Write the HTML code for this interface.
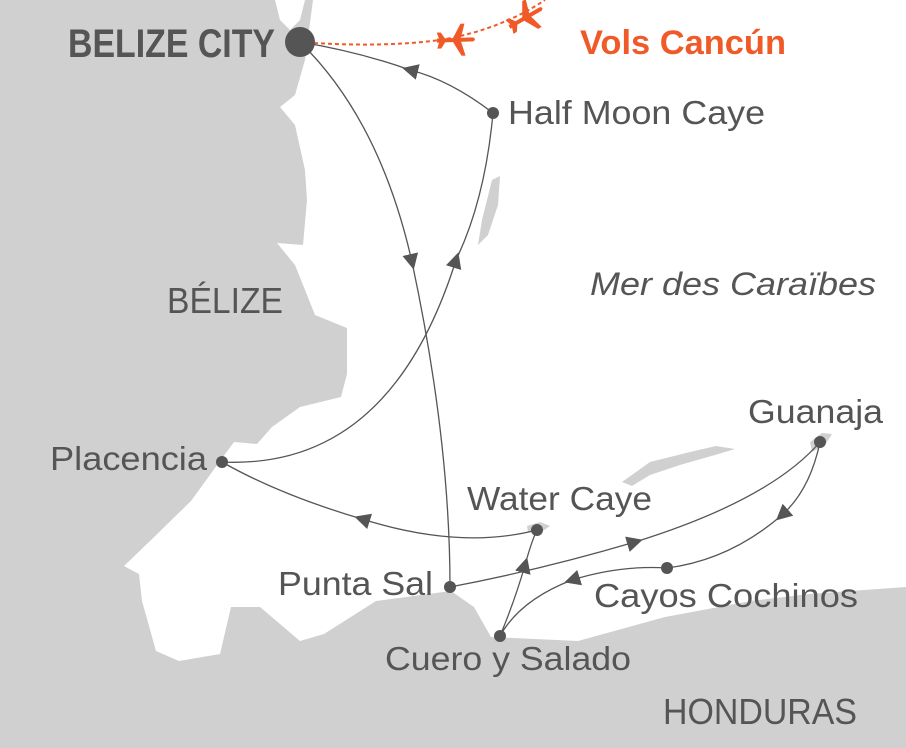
<!DOCTYPE html>
<html><head><meta charset="utf-8"><style>
html,body{margin:0;padding:0;background:#fff;}
svg{display:block;}
text{font-family:"Liberation Sans",sans-serif;fill:#555;}
</style></head><body>
<svg width="906" height="748" viewBox="0 0 906 748" xmlns="http://www.w3.org/2000/svg">
<defs>
<marker id="ar" viewBox="0 0 10 10" refX="5" refY="5" markerWidth="16" markerHeight="16" markerUnits="userSpaceOnUse" orient="auto">
<path d="M0,0 L10,5 L0,10 Z" fill="#555"/>
</marker>
</defs>
<rect width="906" height="748" fill="#fff"/>
<path fill="#d0d0d0" d="M0,0 L313,0 L305,60 L295,95 L280,107 L295,125 L305,170 L307,200 L303,245 L277,243 L295,265 L305,290 L315,315 L347,328 L347,374 L341,397 L300,407 L272,427 L257,444 L234,442 L220,461 L191,501 L150,541 L124,566 L139,574 L142,601 L156,651 L179,661 L220,654 L231,607 L260,607 L300,641 L324,634 L376,601 L451,591 L474,607 L491,637 L578,641 L665,617 L751,601 L809,594 L906,587 L906,748 L0,748 Z"/>
<path fill="#fff" d="M275,0 L305,0 L300,20 L290,30 L280,20 Z"/>
<path fill="#d0d0d0" d="M492,180 L500,176 L498,205 L488,235 L478,245 L482,220 Z"/>
<path fill="#d0d0d0" d="M622,482 L650,462 L690,452 L716,446 L735,449 L715,455 L680,465 L650,475 L632,486 Z"/>
<path fill="#d0d0d0" d="M810,442 L822,433 L832,434 L825,445 L812,452 Z"/>
<path fill="#d0d0d0" d="M527,526 L540,522 L550,526 L540,533 L528,532 Z"/>
<g fill="none" stroke="#555" stroke-width="1.3">
<path d="M493,113 Q450,80 410,70" marker-end="url(#ar)"/>
<path d="M410,70 Q360,52 300,42"/>
<path d="M300,42 Q380,120 412,262" marker-end="url(#ar)"/>
<path d="M412,262 Q450,440 450,587"/>
<path d="M222,462 Q390,470 456,260" marker-end="url(#ar)"/>
<path d="M456,260 Q485,200 493,113"/>
<path d="M537,530 Q460,550 362,519" marker-end="url(#ar)"/>
<path d="M362,519 Q280,495 222,462"/>
<path d="M500,636 Q515,600 525,565" marker-end="url(#ar)"/>
<path d="M525,565 Q532,540 537,530"/>
<path d="M450,587 Q540,570 635,542" marker-end="url(#ar)"/>
<path d="M635,542 Q770,500 820,442"/>
<path d="M820,442 Q810,490 782,515" marker-end="url(#ar)"/>
<path d="M782,515 Q730,560 667,568"/>
<path d="M667,568 Q620,565 572,580" marker-end="url(#ar)"/>
<path d="M572,580 Q520,600 500,636"/>
</g>
<path d="M300,42 Q380,48 440,40 Q500,30 545,0" fill="none" stroke="#f05a28" stroke-width="2" stroke-dasharray="4,3"/>
<g fill="#f05a28">
<g transform="translate(455,40) rotate(-2)"><path d="M-18,-2 L18,-2 Q22,0 18,2 L-18,2 Z M-2,-2 L6,-16 L10,-16 L6,-2 Z M-2,2 L6,16 L10,16 L6,2 Z M-16,-2 L-18,-8 L-14,-8 L-10,-2 Z M-16,2 L-18,8 L-14,8 L-10,2 Z"/></g>
<g transform="translate(525,18) rotate(-30)"><path d="M-18,-2 L18,-2 Q22,0 18,2 L-18,2 Z M-2,-2 L6,-16 L10,-16 L6,-2 Z M-2,2 L6,16 L10,16 L6,2 Z M-16,-2 L-18,-8 L-14,-8 L-10,-2 Z M-16,2 L-18,8 L-14,8 L-10,2 Z"/></g>
</g>
<g fill="#555">
<circle cx="300" cy="42" r="15"/>
<circle cx="493" cy="113" r="6"/>
<circle cx="222" cy="462" r="6"/>
<circle cx="537" cy="530" r="6"/>
<circle cx="450" cy="587" r="6"/>
<circle cx="820" cy="442" r="6"/>
<circle cx="667" cy="568" r="6"/>
<circle cx="500" cy="636" r="6"/>
</g>
<text x="68" y="57" font-size="40" font-weight="bold" textLength="207" lengthAdjust="spacingAndGlyphs">BELIZE CITY</text>
<text x="580" y="54" font-size="34" font-weight="bold" style="fill:#f05a28" textLength="206" lengthAdjust="spacingAndGlyphs">Vols Cancún</text>
<text x="508" y="124" font-size="33" textLength="257" lengthAdjust="spacingAndGlyphs">Half Moon Caye</text>
<text x="167" y="313" font-size="36" textLength="116" lengthAdjust="spacingAndGlyphs">BÉLIZE</text>
<text x="590" y="295" font-size="32" font-style="italic" textLength="286" lengthAdjust="spacingAndGlyphs">Mer des Caraïbes</text>
<text x="748" y="423" font-size="33" textLength="135" lengthAdjust="spacingAndGlyphs">Guanaja</text>
<text x="50" y="470" font-size="33" textLength="157" lengthAdjust="spacingAndGlyphs">Placencia</text>
<text x="467" y="510" font-size="33" textLength="185" lengthAdjust="spacingAndGlyphs">Water Caye</text>
<text x="278" y="595" font-size="33" textLength="155" lengthAdjust="spacingAndGlyphs">Punta Sal</text>
<text x="594" y="607" font-size="33" textLength="264" lengthAdjust="spacingAndGlyphs">Cayos Cochinos</text>
<text x="385" y="670" font-size="33" textLength="246" lengthAdjust="spacingAndGlyphs">Cuero y Salado</text>
<text x="663" y="724" font-size="36" textLength="194" lengthAdjust="spacingAndGlyphs">HONDURAS</text>
</svg>
</body></html>
